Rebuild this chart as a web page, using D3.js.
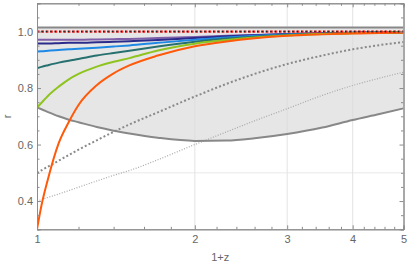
<!DOCTYPE html>
<html>
<head>
<meta charset="utf-8">
<script src="https://cdn.jsdelivr.net/npm/d3@7"></script>
<style>
  body { margin: 0; background: #fff; }
  text { font-family: "Liberation Sans", Arial, sans-serif; }
</style>
</head>
<body>
<svg id="chart" width="407" height="265"></svg>
<script>
// sample points in 1+z, shared by every curve
const zs = [1, 1.02, 1.05, 1.1, 1.15, 1.2, 1.3, 1.4, 1.5, 1.7, 2, 2.3, 2.6, 3, 3.5, 4, 4.5, 5];

const purple = [0.971, 0.971, 0.971, 0.971, 0.971, 0.971, 0.972, 0.973, 0.974, 0.977, 0.981, 0.985, 0.988, 0.991, 0.994, 0.996, 0.997, 0.998];
const navy   = [0.958, 0.958, 0.958, 0.959, 0.960, 0.960, 0.962, 0.964, 0.966, 0.970, 0.977, 0.983, 0.987, 0.991, 0.994, 0.996, 0.997, 0.998];
const blue   = [0.929, 0.930, 0.932, 0.935, 0.937, 0.939, 0.943, 0.947, 0.951, 0.960, 0.971, 0.979, 0.985, 0.990, 0.993, 0.995, 0.996, 0.997];
const teal   = [0.870, 0.875, 0.881, 0.890, 0.897, 0.903, 0.915, 0.924, 0.932, 0.947, 0.964, 0.975, 0.982, 0.988, 0.992, 0.995, 0.996, 0.997];
const lime   = [0.731, 0.748, 0.773, 0.805, 0.831, 0.850, 0.876, 0.893, 0.906, 0.933, 0.957, 0.970, 0.979, 0.986, 0.991, 0.994, 0.996, 0.997];
const orange = [0.300, 0.385, 0.480, 0.605, 0.680, 0.740, 0.810, 0.852, 0.880, 0.915, 0.948, 0.965, 0.976, 0.985, 0.990, 0.993, 0.995, 0.996];

// shaded band: flat top edge and curved bottom edge
const bandTop = 1.014;
const bandLow = [0.731, 0.725, 0.715, 0.700, 0.688, 0.679, 0.662, 0.649, 0.639, 0.624, 0.613, 0.614, 0.622, 0.637, 0.660, 0.687, 0.708, 0.728];

const dotsCoarse = [0.500, 0.509, 0.522, 0.543, 0.563, 0.582, 0.615, 0.645, 0.671, 0.714, 0.770, 0.815, 0.850, 0.885, 0.915, 0.937, 0.952, 0.963];
const dotsFine   = [0.400, 0.405, 0.413, 0.425, 0.437, 0.449, 0.471, 0.491, 0.508, 0.546, 0.600, 0.645, 0.684, 0.727, 0.774, 0.809, 0.835, 0.856];
const unity = 1.0;

const xMajor = [1, 2, 3, 4, 5];
const yMajor = [0.4, 0.6, 0.8, 1.0];
const xGrid = [2, 3, 4];
const yGrid = [0.5];

const svg = d3.select('#chart');
const pl = 37, pr = 403.5, pt = 3.3, pb = 229.3;

const x = d3.scaleLog().domain([1, 5]).range([pl, pr]);
const y = d3.scaleLinear().domain([0.3, 1.1]).range([pb, pt]);

svg.append('clipPath').attr('id', 'clip')
  .append('rect')
  .attr('x', pl).attr('y', pt)
  .attr('width', pr - pl).attr('height', pb - pt);

const plot = svg.append('g').attr('clip-path', 'url(#clip)');

// band fill
const area = d3.area()
  .x((d, i) => x(zs[i]))
  .y0((d) => y(d))
  .y1(() => y(bandTop))
  .curve(d3.curveMonotoneX);

plot.append('path')
  .datum(bandLow)
  .attr('d', area)
  .attr('fill', '#e6e6e6');

// grid
plot.selectAll('line.gx').data(xGrid).enter().append('line')
  .attr('x1', (d) => x(d)).attr('x2', (d) => x(d))
  .attr('y1', pt).attr('y2', pb)
  .attr('stroke', '#dcdcdc').attr('stroke-width', 0.8);

plot.selectAll('line.gy').data(yGrid).enter().append('line')
  .attr('x1', pl).attr('x2', pr)
  .attr('y1', (d) => y(d)).attr('y2', (d) => y(d))
  .attr('stroke', '#e4e4e4').attr('stroke-width', 0.8);

const line = d3.line()
  .x((d, i) => x(zs[i]))
  .y((d) => y(d))
  .curve(d3.curveMonotoneX);

function curve(values, color, width, dash) {
  plot.append('path')
    .datum(values)
    .attr('d', line)
    .attr('fill', 'none')
    .attr('stroke', color)
    .attr('stroke-width', width)
    .attr('stroke-dasharray', dash || null);
}

curve(dotsFine, '#a8a8a8', 1.2, '1,1.6');
curve(dotsCoarse, '#8a8a8a', 2, '2,2.2');
curve(bandLow, '#888', 2);
curve(zs.map(() => bandTop), '#888', 2);

curve(purple, '#7f5fa8', 2);
curve(navy, '#2b2b8c', 2);
curve(blue, '#1e88e5', 2);
curve(teal, '#26716f', 2);
curve(lime, '#8fc31f', 2);
curve(orange, '#ff5a0a', 2);

curve(zs.map(() => unity), '#ff1a1a', 2.2, '2.6,1.8');
curve(zs.map(() => unity), '#222', 1.6, '1.4,3');

// frame with inward ticks
const frame = svg.append('g');
const ink = '#8c8c8c';

function minorBetween(ticks, step) {
  return d3.range(ticks[0], ticks[ticks.length - 1] + step / 2, step)
    .filter((v) => ticks.every((t) => Math.abs(t - v) > 1e-6));
}

const xMinor = minorBetween(xMajor, 0.2);
const yMinor = d3.range(0.3, 1.1001, 0.05)
  .filter((v) => yMajor.every((t) => Math.abs(t - v) > 1e-6));

function styleAxis(g) {
  g.selectAll('path').attr('stroke', ink).attr('stroke-width', 1);
  g.selectAll('line').attr('stroke', ink);
  g.selectAll('text').attr('fill', '#666').style('font-size', '11px');
}

frame.append('g').attr('transform', `translate(0,${pb})`)
  .call(d3.axisBottom(x).tickValues(xMajor).tickSize(-4).tickPadding(6)
    .tickFormat(d3.format('d')))
  .call(styleAxis);
frame.append('g').attr('transform', `translate(0,${pb})`)
  .call(d3.axisBottom(x).tickValues(xMinor).tickSize(-2.5).tickFormat(''))
  .call(styleAxis);

frame.append('g').attr('transform', `translate(0,${pt})`)
  .call(d3.axisTop(x).tickValues(xMajor).tickSize(-4).tickFormat(''))
  .call(styleAxis);
frame.append('g').attr('transform', `translate(0,${pt})`)
  .call(d3.axisTop(x).tickValues(xMinor).tickSize(-2.5).tickFormat(''))
  .call(styleAxis);

frame.append('g').attr('transform', `translate(${pl},0)`)
  .call(d3.axisLeft(y).tickValues(yMajor).tickSize(-4).tickPadding(4)
    .tickFormat(d3.format('.1f')))
  .call(styleAxis);
frame.append('g').attr('transform', `translate(${pl},0)`)
  .call(d3.axisLeft(y).tickValues(yMinor).tickSize(-2.5).tickFormat(''))
  .call(styleAxis);

frame.append('g').attr('transform', `translate(${pr},0)`)
  .call(d3.axisRight(y).tickValues(yMajor).tickSize(-4).tickFormat(''))
  .call(styleAxis);
frame.append('g').attr('transform', `translate(${pr},0)`)
  .call(d3.axisRight(y).tickValues(yMinor).tickSize(-2.5).tickFormat(''))
  .call(styleAxis);

// axis titles
svg.append('text')
  .attr('x', (pl + pr) / 2).attr('y', 261)
  .attr('text-anchor', 'middle')
  .attr('fill', '#666').style('font-size', '11px')
  .text('1+z');

svg.append('text')
  .attr('transform', `translate(11,${(pt + pb) / 2}) rotate(-90)`)
  .attr('text-anchor', 'middle')
  .attr('fill', '#666').style('font-size', '11px')
  .text('r');
</script>
</body>
</html>
